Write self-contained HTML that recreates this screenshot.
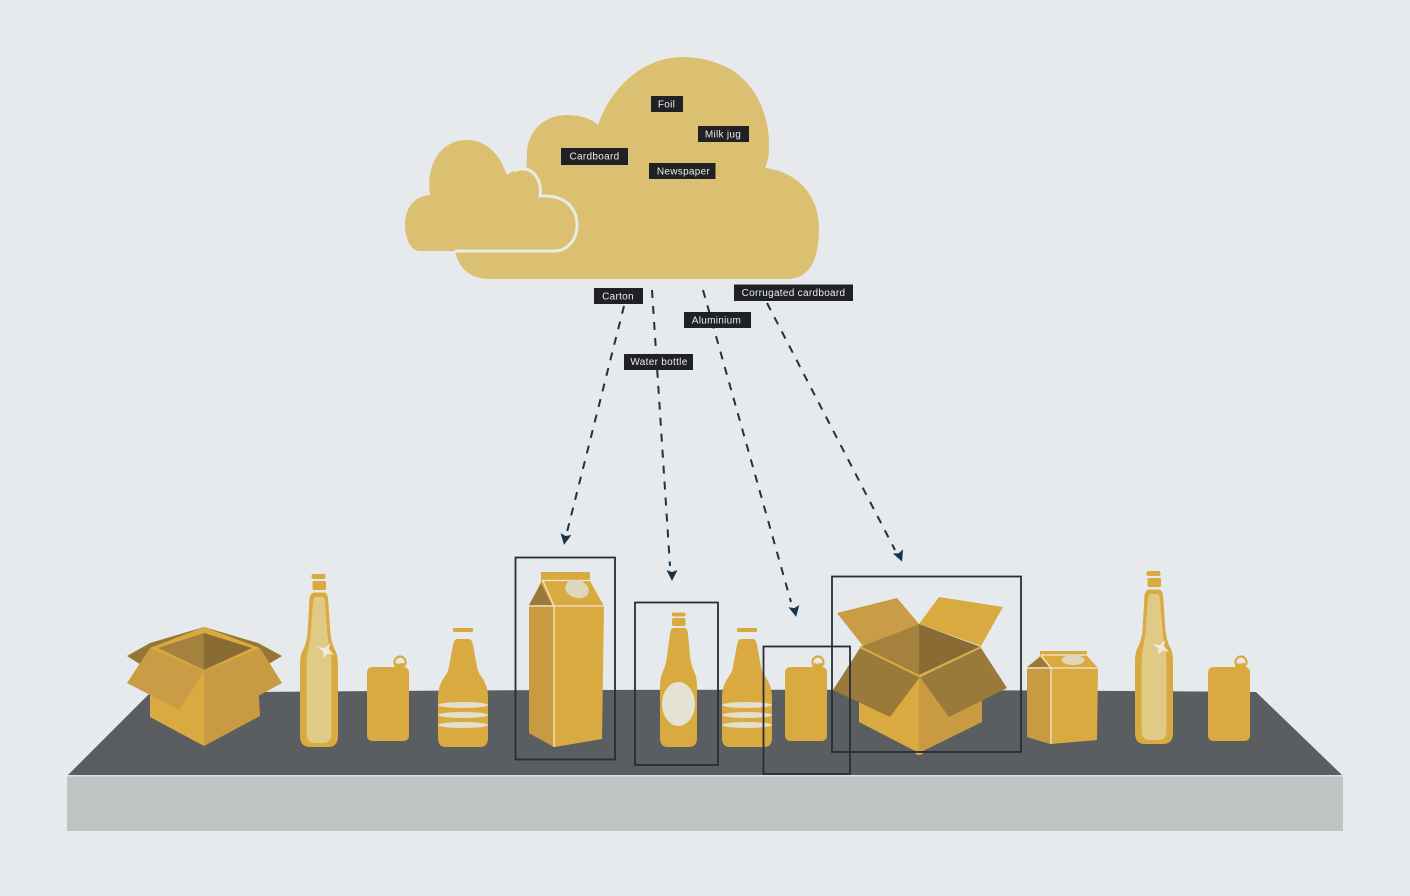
<!DOCTYPE html>
<html><head><meta charset="utf-8"><style>
html,body{margin:0;padding:0;background:#e6eaed}
svg{display:block}
text{font-family:"Liberation Sans",sans-serif;font-size:10px;fill:#eceded;text-anchor:middle;letter-spacing:.3px}
</style></head><body>
<svg width="1410" height="896" viewBox="0 0 1410 896" xmlns="http://www.w3.org/2000/svg">
<defs>
<g id="can">
<ellipse cx="33" cy="-5" rx="5.500" ry="5.500" fill="none" stroke="#d9aa40" stroke-width="2.200"/>
<path d="M27 1 Q28 -4 33 -5 L38 -3 L37 1Z" fill="#d9aa40"/>
<path d="M31 -3.500 L36 -5" stroke="#e6eaed" stroke-width="1.200" fill="none"/>
<rect x="0" y="0" width="42" height="74" rx="5" fill="#d9aa40"/>
</g>
<g id="tall">
<rect x="-7.500" y="0" width="14" height="5" rx="2" fill="#d9aa40"/>
<rect x="-6.500" y="7" width="13.500" height="9" rx="1.500" fill="#d9aa40"/>
<path d="M-5 18.500 H5 Q8 18.500 9 24 L11.500 60 Q12.500 68 15 74 Q19 80 19 90 V162 Q19 173 9 173 H-9 Q-19 173 -19 162 V90 Q-19 80 -15 74 Q-12.500 68 -11.500 60 L-9.500 24 Q-8 18.500 -5 18.500Z" fill="#d9aa40"/>
<path d="M-3 23 H3 Q5.500 23 6 28 L8.500 60 Q9.500 70 11 77 Q12.500 84 12.500 92 V160 Q12.500 169 4 169 H-4 Q-12.500 169 -12.500 160 V92 Q-12.500 84 -11 77 Q-9.500 70 -8.500 60 L-6 28 Q-5.500 23 -3 23Z" fill="#e0ca85"/>
<path d="M11.700 69 L9.500 75 L15 81 L8.500 79.500 L4 84 L4.500 78 L-1.700 73 L5.500 74Z" fill="#eeeae0"/>
</g>
<g id="short">
<rect x="-10" y="0" width="20" height="4" rx="1" fill="#d9aa40"/>
<path d="M-6 11 H6 Q9 11 10 17 L13.500 36 Q14.500 44 18 48 Q25 58 25 68 V110 Q25 119 17 119 H-17 Q-25 119 -25 110 V68 Q-25 58 -18 48 Q-14.500 44 -13.500 36 L-10 17 Q-9 11 -6 11Z" fill="#d9aa40"/>
<ellipse cx="0" cy="77" rx="25" ry="3" fill="#e4dfcf"/>
<ellipse cx="0" cy="87" rx="25" ry="3" fill="#e4dfcf"/>
<ellipse cx="0" cy="97" rx="25" ry="3" fill="#e4dfcf"/>
</g>
<g id="head"><path d="M-5.500 -5.500 L0 -3.500 L5.500 -5.500 L0 5.500Z" fill="#17344b"/></g>
</defs>
<rect width="1410" height="896" fill="#e6eaed"/>

<!-- Table -->
<rect x="67" y="775" width="1276" height="56" fill="#bfc3c3"/>
<rect x="67" y="774.500" width="1276" height="2" fill="#dfe2e2"/>
<path d="M68 775 L150 693 Q700 687 1256 692 L1342 775Z" fill="#5b5e61"/>

<!-- Cloud -->
<path d="M598 125 C612 85 645 57 683 57 C700 57 720 62 735 72 C757 88 769 115 769 145 C769 155 768 162 765 168 C800 172 819 198 819 228 C819 245 816 262 808 270 C802 277 795 279 785 279 H490 C470 279 458 268 455 250 L526 190 L527 152 C528 130 545 115 567 115 C580 115 590 118 598 125Z" fill="#dcc072"/>
<path d="M430 195 C426 165 440 140 467 140 C487 140 500 155 507 175 C512 171 517 169 523 169 C535 169 542 182 540 196 H545 C565 196 577 208 577 225 C577 242 565 251 555 251 H420 C410 251 405 237 405 225 C405 208 414 196 430 195Z" fill="#dcc072"/>
<path d="M514 171 C517 169 520 169 523 169 C535 169 542 182 540 196 H545 C565 196 577 208 577 225 C577 242 565 251 555 251 H455" fill="none" stroke="#e9ebe8" stroke-width="3"/>

<!-- Box 1 -->
<path d="M127 656 L150 643 L204 627 L258 643 L282 656 L262 668 L204 690 L146 668Z" fill="#967636"/>
<path d="M204 627 L150 648 L204 675 L260 648Z" fill="#d9aa40"/>
<path d="M204 633 L158 648 L204 670Z" fill="#a4813c"/>
<path d="M204 633 L252 648 L204 670Z" fill="#8a6b34"/>
<path d="M150 680 L204 671 L204 746 L150 717Z" fill="#d9aa40"/>
<path d="M204 671 L258 680 L260 716 L204 746Z" fill="#c89b42"/>
<path d="M150 648 L204 671 L179 710 L127 683Z" fill="#c99c45"/>
<path d="M260 648 L204 671 L204 720 L260 695 L282 683Z" fill="#c89b42"/>

<!-- Bottles / cans left -->
<use href="#tall" x="319" y="574"/>
<use href="#can" x="367" y="667"/>
<use href="#short" x="463" y="628"/>

<!-- Carton -->
<path d="M529 606 L541 582 V572 H590 V581 L604 606 L602 739 L555 747 L529 733Z" fill="#d9aa40"/>
<path d="M529 606 H554 V747 L529 733Z" fill="#c89b42"/>
<path d="M541 583 L529 605 H552Z" fill="#9a7a3a"/>
<path d="M554 606 V747 M529 606 H604 M542 580.500 H590 M543 581 L554 606" fill="none" stroke="#f0e8d4" stroke-width="1.300"/>
<ellipse cx="577" cy="589" rx="12" ry="9" transform="rotate(18 577 589)" fill="#dfd6bc"/>

<!-- Water bottle -->
<rect x="672" y="612.500" width="13.500" height="4" rx="1.500" fill="#d9aa40"/>
<rect x="672" y="618" width="13.500" height="8" rx="2" fill="#d9aa40"/>
<path d="M673 628 H685 Q687 628 688 634 L690 656 Q691 664 693 669 Q697 676 697 686 V738 Q697 747 689 747 H668 Q660 747 660 738 V686 Q660 676 664 669 Q666 664 667 656 L670 634 Q671 628 673 628Z" fill="#d9aa40"/>
<ellipse cx="678.500" cy="704" rx="16.500" ry="22" fill="#e6e3d6"/>

<use href="#short" x="747" y="628"/>
<use href="#can" x="785" y="667"/>

<!-- Big box -->
<ellipse cx="919" cy="752.500" rx="4" ry="2.500" fill="#d9aa40"/>
<path d="M859 655 L919 678 L919 753 L859 722Z" fill="#d9aa40"/>
<path d="M982 655 L919 678 L919 753 L982 722Z" fill="#c89b42"/>
<path d="M837 613 L897 598 L919 624 L863 646Z" fill="#c99c45"/>
<path d="M919 624 L939 597 L1003 607 L981 646Z" fill="#d9aa40"/>
<path d="M919 624 L860 647 L919 675Z" fill="#a4813c"/>
<path d="M919 624 L981 647 L919 675Z" fill="#8a6b34"/>
<path d="M860 648 L920 677 L890 717 L833 690Z" fill="#9a7a3a"/>
<path d="M981 648 L920 677 L949 717 L1007 688Z" fill="#9a7a3a"/>
<path d="M860 647 L919 676 L981 647" fill="none" stroke="#d9aa40" stroke-width="2"/>

<!-- Small carton -->
<path d="M1027 668 L1040 656 V651 H1087 V656 L1098 668 L1097 740 L1051 744 L1027 737Z" fill="#d9aa40"/>
<path d="M1027 668 H1050 V744 L1027 737Z" fill="#c89b42"/>
<path d="M1040 657 L1027 667 H1049Z" fill="#9a7a3a"/>
<path d="M1051 668 V744 M1027 668 H1098 M1041 655 H1087 M1041 655 L1051 668" fill="none" stroke="#f0e8d4" stroke-width="1.200"/>
<ellipse cx="1073" cy="660" rx="11.500" ry="5" fill="#dfd6bc"/>

<use href="#tall" x="1154" y="571"/>
<use href="#can" x="1208" y="667"/>

<!-- Boxes -->
<g fill="none" stroke="#2a2e33" stroke-width="1.800">
<rect x="515.500" y="557.500" width="99.500" height="202"/>
<rect x="635" y="602.500" width="83" height="162.500"/>
<rect x="763.500" y="646.500" width="86.500" height="127.500"/>
<rect x="832" y="576.500" width="189" height="175.500"/>
</g>

<!-- Arrows -->
<g fill="none" stroke="#17344b" stroke-width="2" stroke-dasharray="8 8">
<path d="M624 306 L567 532"/>
<path d="M652 290 L670 566"/>
<path d="M703 290 L791 602"/>
<path d="M767 303 L895 550"/>
</g>
<use href="#head" transform="translate(565 539.500) rotate(10)"/>
<use href="#head" transform="translate(672 575.500)"/>
<use href="#head" transform="translate(795 611.500) rotate(-12)"/>
<use href="#head" transform="translate(900 556.500) rotate(-22)"/>

<!-- Labels -->
<g fill="#1f2124">
<rect x="651" y="96" width="32" height="16"/>
<rect x="698" y="126" width="51" height="16"/>
<rect x="561" y="148" width="67" height="17"/>
<rect x="649" y="163" width="66.500" height="16"/>
<rect x="594" y="288" width="49" height="16"/>
<rect x="734" y="284.500" width="119" height="16.500"/>
<rect x="684" y="312" width="67" height="16"/>
<rect x="624" y="354" width="69" height="16"/>
</g>
<text x="666.500" y="107.500">Foil</text>
<text x="723" y="137.500">Milk jug</text>
<text x="594.500" y="159.500">Cardboard</text>
<text x="683.500" y="174.500">Newspaper</text>
<text x="618" y="299.500">Carton</text>
<text x="793.500" y="296">Corrugated cardboard</text>
<text x="716.500" y="323.500">Aluminium</text>
<text x="659" y="365">Water bottle</text>
</svg>
</body></html>
